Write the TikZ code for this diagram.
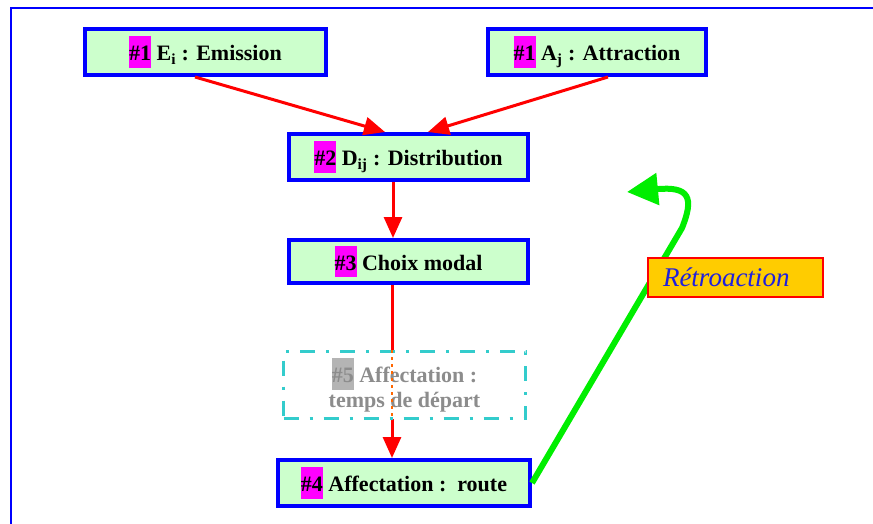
\documentclass[tikz,border=0pt]{standalone}
\usepackage{fontspec}
\setmainfont{Liberation Serif}
\usetikzlibrary{arrows.meta,calc}

\definecolor{boxfill}{HTML}{CCFFCC}
\definecolor{boxline}{HTML}{0000FF}
\definecolor{hlmag}{HTML}{FF00FF}
\definecolor{hlgray}{HTML}{B4B4B4}
\definecolor{ghost}{HTML}{8C8C8C}
\definecolor{dashcyan}{HTML}{33CCCC}
\definecolor{linkred}{HTML}{FF0000}
\definecolor{loopgreen}{HTML}{00EE00}
\definecolor{dotorange}{HTML}{FF6600}
\definecolor{tagfill}{HTML}{FFCC00}
\definecolor{tagtext}{HTML}{2020DD}

% highlighted step number
\newcommand{\hlnum}[2][hlmag]{{\setlength{\fboxsep}{0pt}\colorbox{#1}{\rule[-0.32em]{0pt}{1.45em}#2}}}

\tikzset{
  stepbox/.style={draw=boxline, line width=4pt, fill=boxfill, inner sep=0pt,
    minimum height=46pt, font=\fontsize{22}{26}\selectfont\bfseries},
  ghostbox/.style={draw=dashcyan, line width=3pt, fill=white, inner sep=0pt,
    dash pattern=on 15pt off 11pt on 3pt off 11pt,
    font=\fontsize{22}{25}\selectfont\bfseries, text=ghost, align=center},
  tagbox/.style={draw=linkred, line width=2pt, fill=tagfill, inner sep=0pt,
    font=\fontsize{27}{30}\selectfont\itshape, text=tagtext,
    text width=145pt, align=left},
  flow/.style={draw=linkred, line width=3pt,
    -{Triangle[length=21pt,width=18pt]}},
  loop/.style={draw=loopgreen, line width=6pt,
    -{Triangle[length=31pt,width=31pt]}},
  faint/.style={draw=dotorange, line width=2.5pt, dash pattern=on 3pt off 4pt}
}

\begin{document}
\begin{tikzpicture}[x=1pt,y=-1pt]
\useasboundingbox (0,0) rectangle (873,524);
\clip (0,0) rectangle (873,524);

% page frame
\draw[boxline, line width=2pt] (11,600) -- (11,8) -- (900,8);

% steps
\node[stepbox, minimum width=241pt] (E) at (205.5,52)
  {\hlnum{\#1} E\textsubscript{i} : Emission};
\node[stepbox, minimum width=218pt] (A) at (597,52)
  {\hlnum{\#1} A\textsubscript{j} : Attraction};
\node[stepbox, minimum width=239pt] (D) at (408.5,157)
  {\hlnum{\#2} D\textsubscript{ij} : Distribution};
\node[stepbox, minimum width=239pt, minimum height=43pt] (C) at (408.5,261.5)
  {\hlnum{\#3} Choix modal};
\node[stepbox, minimum width=252pt] (F) at (404,483)
  {\hlnum{\#4} Affectation :\ \ route};

% red links
\draw[flow] ([xshift=-10.5pt]E.south) -- ([xshift=-23.5pt]D.north);
\draw[flow] ([xshift=11pt]A.south) -- ([xshift=19.5pt]D.north);
\draw[flow] ([xshift=-15.5pt]D.south) -- ([xshift=-15.5pt]C.north);
\coordinate (cs) at ([xshift=-16.5pt]C.south);
\draw[flow] (cs) -- (cs |- F.north);

% optional step, drawn over the link
\node[ghostbox, minimum width=242pt, minimum height=67pt] (T) at (404.5,385)
  {\hlnum[hlgray]{\#5} Affectation :\\temps de départ};
\draw[faint] (cs |- T.north) -- (cs |- T.south);

% feedback loop
\coordinate (back) at (627,192);
\draw[loop] (F.east) -- (682,228) .. controls (694,198) and (690,186) .. (back);
\node[tagbox, minimum width=175pt, minimum height=39pt] (R) at (735.5,277.5)
  {Rétroaction};
\end{tikzpicture}
\end{document}
